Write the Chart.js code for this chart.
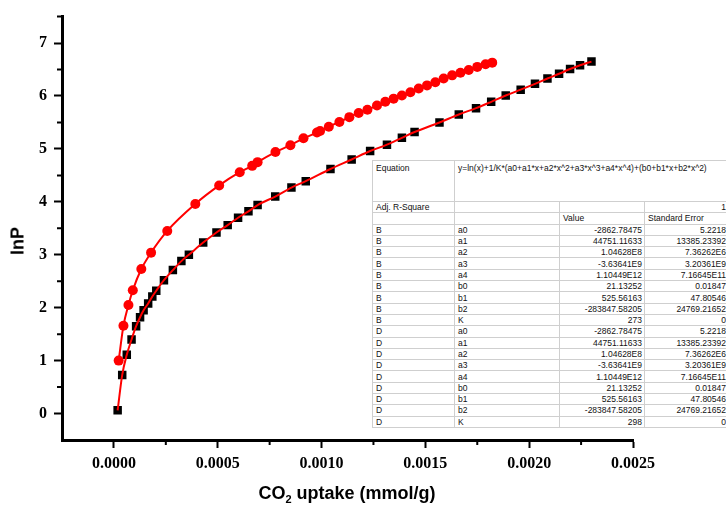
<!DOCTYPE html>
<html>
<head>
<meta charset="utf-8">
<script src="https://cdn.jsdelivr.net/npm/chart.js@4.4.0/dist/chart.umd.min.js"></script>
<style>
  body { margin: 0; background: #fff; overflow: hidden; }
  #wrap { position: relative; width: 726px; height: 506px; }
  #ytitle {
    position: absolute; left: 18px; top: 241px;
    transform: translate(-50%, -50%) rotate(-90deg);
    font: bold 18px "Liberation Sans", Arial, sans-serif; white-space: nowrap;
  }
  #xtitle {
    position: absolute; left: 347px; top: 494px;
    transform: translate(-50%, -50%);
    font: bold 18px "Liberation Sans", Arial, sans-serif; white-space: nowrap;
  }
  #xtitle sub { font-size: 11px; vertical-align: -4px; }
  #fit {
    position: absolute; left: 372px; top: 160px; width: 356px;
    border-collapse: collapse; table-layout: fixed; background: #fff;
    font: 8.5px "Liberation Sans", Arial, sans-serif; color: #111;
    border: 1px solid #8a8a8a;
  }
  #fit td { border: 1px solid #cfcfcf; padding: 0 2px 0 3px; height: 10.3px; line-height: 10px; white-space: nowrap; overflow: hidden; }
  #fit td.r { text-align: right; }
  #fit tr.eq td { height: 38px; vertical-align: top; padding-top: 2px; }
</style>
</head>
<body>
<div id="wrap">
  <canvas id="chart" width="726" height="506"></canvas>
  <div id="ytitle">lnP</div>
  <div id="xtitle">CO<sub>2</sub> uptake (mmol/g)</div>
  <table id="fit">
    <colgroup><col style="width:82px"><col style="width:105px"><col style="width:85px"><col style="width:84px"></colgroup>
    <tbody id="fit-body"></tbody>
  </table>
</div>
<script>
// isoterm 273 K (kotak hitam)
const xB = [0.000018, 0.000040, 0.000062, 0.000085, 0.000107, 0.000126, 0.000143, 0.000165, 0.000185, 0.000204,
  0.000241, 0.000284, 0.000325, 0.000361, 0.000430, 0.000494, 0.000548, 0.000598, 0.000648, 0.000692,
  0.000777, 0.000855, 0.000924, 0.001043, 0.001145, 0.001234, 0.001315, 0.001387, 0.001448, 0.001568,
  0.001661, 0.001744, 0.001817, 0.001887, 0.001959, 0.002028, 0.002088, 0.002144, 0.002197, 0.002245, 0.002300];
const yB = [0.06, 0.73, 1.11, 1.40, 1.65, 1.82, 1.95, 2.08, 2.21, 2.32,
  2.52, 2.71, 2.88, 3.00, 3.23, 3.42, 3.56, 3.70, 3.82, 3.94,
  4.10, 4.27, 4.39, 4.62, 4.80, 4.96, 5.08, 5.21, 5.32, 5.50,
  5.65, 5.77, 5.89, 6.01, 6.12, 6.23, 6.33, 6.42, 6.51, 6.58, 6.65];

// isoterm 298 K (lingkaran merah)
const xD = [0.000023, 0.000046, 0.000070, 0.000091, 0.000132, 0.000179, 0.000257, 0.000392, 0.000507, 0.000606,
  0.000666, 0.000692, 0.000778, 0.000850, 0.000913, 0.000978, 0.000993, 0.001035, 0.001086, 0.001134,
  0.001179, 0.001221, 0.001267, 0.001307, 0.001347, 0.001387, 0.001428, 0.001468, 0.001508, 0.001548,
  0.001588, 0.001629, 0.001669, 0.001709, 0.001750, 0.001790, 0.001822];
const yD = [1.00, 1.66, 2.05, 2.33, 2.73, 3.04, 3.45, 3.96, 4.31, 4.56,
  4.68, 4.75, 4.94, 5.07, 5.20, 5.31, 5.34, 5.42, 5.51, 5.60,
  5.68, 5.74, 5.82, 5.89, 5.95, 6.01, 6.07, 6.14, 6.20, 6.26,
  6.33, 6.39, 6.44, 6.49, 6.55, 6.60, 6.63];

const xMajor = [0, 0.0005, 0.0010, 0.0015, 0.0020, 0.0025];
const xMinor = [0.00025, 0.00075, 0.00125, 0.00175, 0.00225];
const yMajor = [0, 1, 2, 3, 4, 5, 6, 7];
const yMinor = [0.5, 1.5, 2.5, 3.5, 4.5, 5.5, 6.5, 7.5];

// tabel hasil fitting
const fitEquation = 'y=ln(x)+1/K*(a0+a1*x+a2*x^2+a3*x^3+a4*x^4)+(b0+b1*x+b2*x^2)';
const adjR2 = '1';
const groups = ['B', 'D'];
const tempK = ['273', '298'];
const paramNames = ['a0', 'a1', 'a2', 'a3', 'a4', 'b0', 'b1', 'b2', 'K'];
const paramValues = ['-2862.78475', '44751.11633', '1.04628E8', '-3.63641E9', '1.10449E12', '21.13252', '525.56163', '-283847.58205'];
const paramErrors = ['5.2218', '13385.23392', '7.36262E6', '3.20361E9', '7.16645E11', '0.01847', '47.80546', '24769.21652', '0'];

function buildTable() {
    const body = document.getElementById('fit-body');
    let html = `<tr class="eq"><td>Equation</td><td colspan="3">${fitEquation}</td></tr>`;
    html += `<tr><td>Adj. R-Square</td><td></td><td></td><td class="r">${adjR2}</td></tr>`;
    html += `<tr><td></td><td></td><td>Value</td><td>Standard Error</td></tr>`;
    groups.forEach((g, gi) => {
        paramNames.forEach((p, i) => {
            const val = p === 'K' ? tempK[gi] : paramValues[i];
            html += `<tr><td>${g}</td><td>${p}</td><td class="r">${val}</td><td class="r">${paramErrors[i]}</td></tr>`;
        });
    });
    body.innerHTML = html;
}
buildTable();

const toPoints = (xs, ys) => xs.map((x, i) => ({ x: x, y: ys[i] }));

// tick kecil di antara tick utama
const minorTicks = {
    id: 'minorTicks',
    afterDraw(chart) {
        const { ctx, chartArea, scales } = chart;
        ctx.save();
        ctx.strokeStyle = '#000';
        ctx.lineWidth = 2;
        ctx.beginPath();
        xMinor.forEach(v => {
            const px = scales.x.getPixelForValue(v);
            ctx.moveTo(px, chartArea.bottom);
            ctx.lineTo(px, chartArea.bottom + 5);
        });
        yMinor.forEach(v => {
            const py = scales.y.getPixelForValue(v);
            ctx.moveTo(chartArea.left, py);
            ctx.lineTo(chartArea.left - 5, py);
        });
        ctx.stroke();
        ctx.restore();
    }
};

const tickFont = { family: '"Liberation Serif", "Times New Roman", serif', size: 16, weight: 'bold' };

new Chart(document.getElementById('chart').getContext('2d'), {
    type: 'scatter',
    data: {
        datasets: [{
            label: 'fit 273 K',
            data: toPoints(xB, yB),
            showLine: true,
            borderColor: '#ff0000',
            borderWidth: 2,
            pointRadius: 0,
            cubicInterpolationMode: 'monotone'
        },
        {
            label: '298 K',
            data: toPoints(xD, yD),
            showLine: true,
            borderColor: '#ff0000',
            borderWidth: 2,
            pointStyle: 'circle',
            pointRadius: 5,
            pointBorderWidth: 0,
            pointBackgroundColor: '#ff0000',
            cubicInterpolationMode: 'monotone'
        },
        {
            label: '273 K',
            data: toPoints(xB, yB),
            showLine: false,
            pointStyle: 'rect',
            pointRadius: 6,
            pointBorderWidth: 0,
            pointBackgroundColor: '#000'
        }]
    },
    options: {
        responsive: false,
        animation: false,
        layout: { padding: { top: 15, right: 93, left: 0, bottom: 0 } },
        plugins: { legend: { display: false }, tooltip: { enabled: false } },
        scales: {
            x: {
                type: 'linear',
                min: -0.00025,
                max: 0.0025,
                afterFit(scale) { scale.height = 66; },
                afterBuildTicks(scale) { scale.ticks = xMajor.map(v => ({ value: v })); },
                ticks: {
                    callback: v => v.toFixed(4),
                    font: tickFont,
                    color: '#000',
                    padding: 6,
                    maxRotation: 0
                },
                grid: { drawOnChartArea: false, tickLength: 8, tickWidth: 2, tickColor: '#000' },
                border: { display: true, width: 3, color: '#000' }
            },
            y: {
                min: -0.5,
                max: 7.5,
                afterFit(scale) { scale.width = 62; },
                afterBuildTicks(scale) { scale.ticks = yMajor.map(v => ({ value: v })); },
                ticks: {
                    callback: v => String(v),
                    font: tickFont,
                    color: '#000',
                    padding: 7
                },
                grid: { drawOnChartArea: false, tickLength: 8, tickWidth: 2, tickColor: '#000' },
                border: { display: true, width: 3, color: '#000' }
            }
        }
    },
    plugins: [minorTicks]
});
</script>
</body>
</html>
